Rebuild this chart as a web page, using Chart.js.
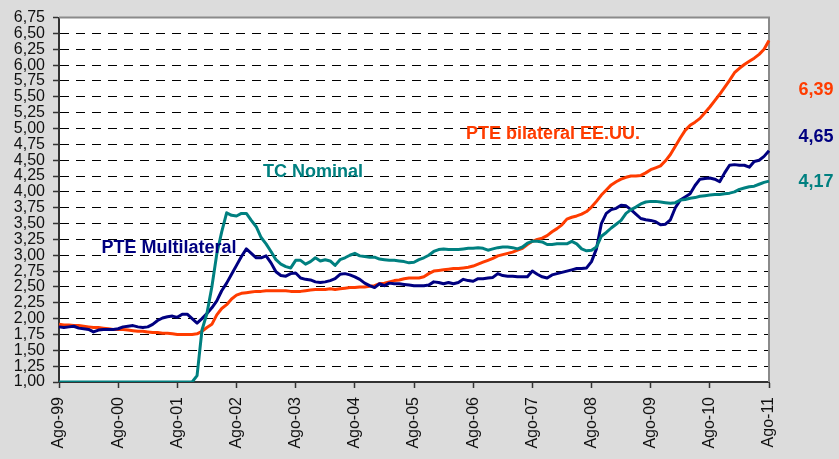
<!DOCTYPE html>
<html>
<head>
<meta charset="utf-8">
<script src="https://cdn.jsdelivr.net/npm/chart.js@4.4.1/dist/chart.umd.min.js"></script>
<style>
  html, body { margin: 0; padding: 0; background: #dcdcdc; }
  #wrap { width: 839px; height: 459px; position: relative; }
</style>
</head>
<body>
<div id="wrap"><canvas id="chart"></canvas></div>
<script>
// ── Data (monthly, Ago-99 .. Ago-11) ──
const MONTHS = ['Ago', 'Sep', 'Oct', 'Nov', 'Dic', 'Ene', 'Feb', 'Mar', 'Abr', 'May', 'Jun', 'Jul'];
const FIRST_YEAR = 1999;
const N_POINTS = 145;

const TICK_LABELS = ['Ago-99', 'Ago-00', 'Ago-01', 'Ago-02', 'Ago-03', 'Ago-04', 'Ago-05',
                     'Ago-06', 'Ago-07', 'Ago-08', 'Ago-09', 'Ago-10', 'Ago-11'];

const TC_NOMINAL = [
    1.00, 1.00, 1.00, 1.00, 1.00, 1.00, 1.00, 1.00, 1.00, 1.00, 1.00, 1.00,
    1.00, 1.00, 1.00, 1.00, 1.00, 1.00, 1.00, 1.00, 1.00, 1.00, 1.00, 1.00,
    1.00, 1.00, 1.00, 1.00, 1.10, 1.82, 2.08, 2.50, 3.02, 3.37, 3.67, 3.63,
    3.62, 3.66, 3.66, 3.55, 3.45, 3.28, 3.18, 3.06, 2.93, 2.86, 2.82, 2.80,
    2.92, 2.92, 2.86, 2.90, 2.96, 2.91, 2.93, 2.91, 2.84, 2.93, 2.96, 3.00,
    3.03, 2.99, 2.98, 2.97, 2.97, 2.94, 2.93, 2.92, 2.92, 2.91, 2.90, 2.88,
    2.89, 2.93, 2.96, 3.00, 3.06, 3.09, 3.10, 3.09, 3.09, 3.09, 3.10, 3.11,
    3.11, 3.12, 3.11, 3.08, 3.10, 3.12, 3.13, 3.13, 3.12, 3.10, 3.13, 3.19,
    3.22, 3.22, 3.21, 3.17, 3.17, 3.18, 3.18, 3.18, 3.22, 3.18, 3.10, 3.07,
    3.08, 3.13, 3.30, 3.36, 3.43, 3.49, 3.55, 3.66, 3.72, 3.76, 3.81, 3.84,
    3.85, 3.85, 3.84, 3.83, 3.82, 3.83, 3.87, 3.88, 3.90, 3.91, 3.93, 3.94,
    3.95, 3.96, 3.96, 3.97, 3.98, 4.00, 4.04, 4.06, 4.08, 4.09, 4.12, 4.15,
    4.17
];

const PTE_MULTILATERAL = [
    1.87, 1.86, 1.87, 1.88, 1.85, 1.84, 1.83, 1.79, 1.82, 1.83, 1.83, 1.83,
    1.84, 1.87, 1.88, 1.89, 1.87, 1.86, 1.87, 1.91, 1.97, 2.01, 2.03, 2.04,
    2.02, 2.07, 2.07, 2.00, 1.93, 2.00, 2.08, 2.17, 2.28, 2.44, 2.56, 2.70,
    2.84, 2.98, 3.10, 3.03, 2.96, 2.96, 2.99, 2.88, 2.74, 2.68, 2.67, 2.71,
    2.72, 2.64, 2.62, 2.61, 2.58, 2.57, 2.58, 2.60, 2.63, 2.70, 2.71, 2.69,
    2.66, 2.62, 2.56, 2.52, 2.49, 2.55, 2.52, 2.56, 2.55, 2.55, 2.54, 2.53,
    2.52, 2.52, 2.52, 2.53, 2.58, 2.57, 2.55, 2.57, 2.55, 2.57, 2.62, 2.60,
    2.59, 2.63, 2.63, 2.64, 2.65, 2.71, 2.68, 2.67, 2.67, 2.66, 2.66, 2.66,
    2.75, 2.70, 2.66, 2.64, 2.69, 2.71, 2.73, 2.75, 2.77, 2.79, 2.79, 2.80,
    2.90, 3.10, 3.50, 3.66, 3.72, 3.74, 3.79, 3.78, 3.72, 3.65, 3.58, 3.56,
    3.55, 3.53, 3.48, 3.49, 3.56, 3.75, 3.87, 3.92, 3.97, 4.10, 4.20, 4.21,
    4.22, 4.20, 4.16, 4.30, 4.42, 4.43, 4.42, 4.42, 4.39, 4.48, 4.50, 4.56,
    4.65
];

const PTE_BILATERAL_EEUU = [
    1.91, 1.90, 1.90, 1.89, 1.89, 1.88, 1.87, 1.86, 1.86, 1.85, 1.84, 1.83,
    1.83, 1.83, 1.82, 1.81, 1.80, 1.80, 1.79, 1.78, 1.78, 1.77, 1.77, 1.76,
    1.75, 1.75, 1.75, 1.75, 1.76, 1.80, 1.86, 1.91, 2.06, 2.16, 2.22, 2.31,
    2.37, 2.40, 2.41, 2.42, 2.43, 2.43, 2.44, 2.44, 2.44, 2.44, 2.44, 2.43,
    2.43, 2.43, 2.44, 2.45, 2.46, 2.46, 2.46, 2.47, 2.46, 2.47, 2.48, 2.49,
    2.49, 2.50, 2.50, 2.51, 2.52, 2.55, 2.56, 2.58, 2.60, 2.61, 2.63, 2.64,
    2.64, 2.64, 2.66, 2.71, 2.75, 2.76, 2.77, 2.78, 2.79, 2.79, 2.80, 2.81,
    2.83, 2.86, 2.89, 2.92, 2.95, 2.99, 3.01, 3.03, 3.05, 3.08, 3.11, 3.17,
    3.22, 3.25, 3.27, 3.31, 3.37, 3.42, 3.48, 3.57, 3.60, 3.62, 3.65, 3.69,
    3.76, 3.85, 3.95, 4.03, 4.11, 4.16, 4.20, 4.23, 4.25, 4.25, 4.26, 4.30,
    4.35, 4.38, 4.41, 4.49, 4.59, 4.72, 4.85, 4.97, 5.05, 5.10, 5.16, 5.25,
    5.34, 5.44, 5.54, 5.65, 5.76, 5.88, 5.95, 6.01, 6.06, 6.11, 6.17, 6.25,
    6.39
];

// series names, drawn inside the plot / at the right edge (anchored in data space: month index, value)
const SERIES_NAMES = ['TC Nominal', 'PTE Multilateral', 'PTE bilateral EE.UU.'];
const NAME_ANCHORS = [[51.5, 4.31], [22.3, 3.11], [100.2, 4.905]];
const LAST_VALUE_TEXT = ['4,17', '4,65', '6,39'];
const LAST_VALUE_ANCHORS = [[150, 4.15], [150, 4.87], [150, 5.61]];

const COLORS = ['#008080', '#000080', '#ff3c00'];
const FONT = "'Liberation Sans', Arial, sans-serif";

// category labels: Ago-99, Sep-99, ...
const labels = [];
for (let i = 0; i < N_POINTS; i++) {
    const yr = FIRST_YEAR + Math.floor((i + 7) / 12);
    labels.push(MONTHS[i % 12] + '-' + String(yr % 100).padStart(2, '0'));
}

const plotFrame = {
    id: 'plotFrame',
    beforeDraw(chart) {
        const { ctx, chartArea: a } = chart;
        ctx.save();
        ctx.fillStyle = '#dcdcdc';
        ctx.fillRect(0, 0, chart.width, chart.height);
        ctx.fillStyle = '#ffffff';
        ctx.fillRect(a.left, a.top, a.right - a.left, a.bottom - a.top);
        ctx.restore();
    },
    beforeDatasetsDraw(chart) {
        const { ctx, chartArea: a } = chart;
        ctx.save();
        ctx.strokeStyle = '#8a8a8a';
        ctx.lineWidth = 2;
        ctx.beginPath();
        ctx.moveTo(a.left, a.top);
        ctx.lineTo(a.right, a.top);
        ctx.lineTo(a.right, a.bottom);
        ctx.stroke();
        ctx.restore();
    }
};

const seriesText = {
    id: 'seriesText',
    afterDatasetsDraw(chart) {
        const { ctx, scales: { x, y } } = chart;
        ctx.save();
        ctx.font = 'bold 18px ' + FONT;
        ctx.textBaseline = 'middle';
        ctx.textAlign = 'center';
        SERIES_NAMES.forEach((t, i) => {
            ctx.fillStyle = COLORS[i];
            ctx.fillText(t, x.getPixelForValue(NAME_ANCHORS[i][0]), y.getPixelForValue(NAME_ANCHORS[i][1]));
        });
        ctx.textAlign = 'left';
        LAST_VALUE_TEXT.forEach((t, i) => {
            ctx.fillStyle = COLORS[i];
            ctx.fillText(t, x.getPixelForValue(LAST_VALUE_ANCHORS[i][0]), y.getPixelForValue(LAST_VALUE_ANCHORS[i][1]));
        });
        ctx.restore();
    }
};

const series = [TC_NOMINAL, PTE_MULTILATERAL, PTE_BILATERAL_EEUU];

new Chart(document.getElementById('chart'), {
    type: 'line',
    data: {
        labels,
        datasets: series.map((d, i) => ({
            label: SERIES_NAMES[i],
            data: d,
            borderColor: COLORS[i],
            borderWidth: 3,
            pointRadius: 0,
            tension: 0,
            borderJoinStyle: 'round',
            fill: false,
        }))
    },
    options: {
        responsive: true,
        maintainAspectRatio: false,
        animation: false,
        devicePixelRatio: 1,
        layout: { padding: { top: 11, right: 70, bottom: 0, left: 0 } },
        plugins: {
            legend: { display: false },
            tooltip: { enabled: false },
        },
        scales: {
            x: {
                type: 'category',
                offset: false,
                afterBuildTicks: (s) => { s.ticks = s.ticks.filter(t => t.value % 12 === 0); },
                afterFit: (s) => { s.height = 77; },
                ticks: {
                    autoSkip: false,
                    minRotation: 90,
                    maxRotation: 90,
                    padding: 9,
                    color: '#111',
                    font: { family: FONT, size: 16 },
                    callback: (v, i) => TICK_LABELS[i],
                },
                grid: {
                    display: true,
                    drawOnChartArea: false,
                    drawTicks: true,
                    tickLength: 6,
                    tickWidth: 1.5,
                    tickColor: '#333',
                },
                border: { display: true, color: '#333', width: 2 },
            },
            y: {
                min: 1,
                max: 6.75,
                afterFit: (s) => { s.width = 59; },
                ticks: {
                    stepSize: 0.25,
                    autoSkip: false,
                    padding: 8,
                    color: '#111',
                    font: { family: FONT, size: 16 },
                    callback: (v) => v.toFixed(2).replace('.', ','),
                },
                grid: {
                    color: (c) => (c.tick && c.tick.value >= 6.75) ? 'rgba(0,0,0,0)' : '#000',
                    lineWidth: 1,
                    drawTicks: true,
                    tickLength: 6,
                    tickWidth: 1.5,
                    tickColor: '#333',
                },
                border: { display: true, color: '#333', width: 2, dash: [9, 7] },
            }
        }
    },
    plugins: [plotFrame, seriesText]
});
</script>
</body>
</html>
